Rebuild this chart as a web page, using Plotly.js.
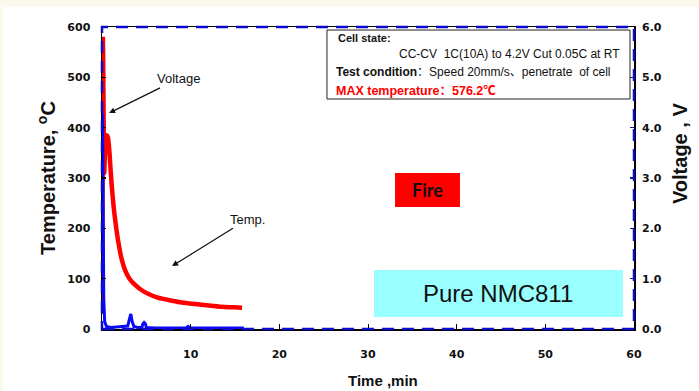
<!DOCTYPE html>
<html>
<head>
<meta charset="utf-8">
<script src="https://cdn.plot.ly/plotly-3.0.1.min.js"></script>
<style>
  html, body { margin: 0; padding: 0; background: #fdf8ec; width: 699px; height: 391px; overflow: hidden; }
  #chart { position: absolute; left: 3px; top: 7px; width: 696px; height: 384px; background: #ffffff; }
</style>
</head>
<body>
<div id="chart"></div>
<script>
// ---- data ----
const tempTime = [0.03, 0.07, 0.1, 0.13, 0.18, 0.25, 0.35, 0.5, 0.65, 0.8, 0.95, 1.1, 1.3, 1.55, 1.85, 2.2, 2.6, 3.1, 3.7, 4.4, 5.2, 6.2, 7.4, 8.8, 10.2, 11.8, 13.5, 15.0, 15.8];
const tempValues = [30, 380, 576, 540, 420, 310, 355, 385, 382, 360, 322, 285, 245, 208, 172, 140, 117, 100, 88, 78, 70, 63, 58, 53, 50, 47, 44, 43, 42];

const voltTime = [0, 0.06, 0.1, 0.14, 0.2, 0.3, 0.5, 1.0, 2.0, 2.9, 3.1, 3.25, 3.4, 3.6, 4.0, 4.5, 4.6, 4.75, 4.9, 5.0, 6.0, 8.0, 9.5, 9.7, 9.9, 11.0, 13.0, 15.0, 16.0];
const voltValues = [4.3, 4.2, 3.2, 1.8, 0.6, 0.15, 0.05, 0.03, 0.04, 0.06, 0.2, 0.3, 0.15, 0.05, 0.03, 0.03, 0.1, 0.13, 0.1, 0.03, 0.02, 0.02, 0.02, 0.05, 0.02, 0.02, 0.02, 0.02, 0.02];

const xTickVals = [10, 20, 30, 40, 50, 60];
const yTickVals = [0, 100, 200, 300, 400, 500, 600];
const y2TickVals = [0, 1, 2, 3, 4, 5, 6];

const infoLines = [
  "Cell state:",
  "CC-CV  1C(10A) to 4.2V Cut 0.05C at RT",
  "<b>Test condition</b>：Speed 20mm/s、penetrate  of cell",
  "MAX temperature：576.2℃"
];

const RED = '#ff0000';
const BLUE = '#0a0aff';
const FONT = 'Arial, "Liberation Sans", "Noto Sans CJK SC", sans-serif';
const TICKFONT = {family: '"DejaVu Sans", Verdana, sans-serif', size: 11, color: '#111', weight: 'bold'};

const traces = [
  {
    x: tempTime, y: tempValues, type: 'scatter', mode: 'lines',
    line: {color: RED, width: 4.5, shape: 'spline', smoothing: 0.6},
    name: 'Temp.', yaxis: 'y', hoverinfo: 'skip'
  },
  {
    x: voltTime, y: voltValues, type: 'scatter', mode: 'lines',
    line: {color: BLUE, width: 3},
    name: 'Voltage', yaxis: 'y2', hoverinfo: 'skip'
  }
];

function paperText(text, x, y, font, opts) {
  return Object.assign({
    text: text, x: x, y: y, xref: 'paper', yref: 'paper',
    xanchor: 'center', yanchor: 'middle', showarrow: false,
    font: Object.assign({family: FONT, color: '#111'}, font)
  }, opts || {});
}

const layout = {
  width: 696, height: 384,
  margin: {l: 99, r: 65, t: 20, b: 62},
  paper_bgcolor: '#ffffff', plot_bgcolor: '#ffffff',
  showlegend: false,
  font: {family: FONT, color: '#111'},
  xaxis: {
    range: [0, 60], tickvals: xTickVals, ticktext: xTickVals.map(String),
    ticks: 'inside', ticklen: 5, tickcolor: '#000', tickwidth: 1,
    showline: true, linecolor: '#000', linewidth: 1.5, mirror: true,
    showgrid: false, zeroline: false,
    tickfont: TICKFONT, ticklabelstandoff: 14
  },
  yaxis: {
    range: [0, 600], tickvals: yTickVals, ticktext: yTickVals.map(String),
    ticks: 'inside', ticklen: 4, tickcolor: '#000', tickwidth: 1.5,
    showline: true, linecolor: '#000', linewidth: 1.5, mirror: true,
    showgrid: false, zeroline: false,
    tickfont: TICKFONT, ticklabelstandoff: 8,
    title: {text: 'Temperature, <sup>o</sup>C', font: {family: FONT, size: 20, color: '#111', weight: 'bold'}, standoff: 6}
  },
  yaxis2: {
    range: [0, 6], tickvals: y2TickVals, ticktext: y2TickVals.map(v => v.toFixed(1)),
    overlaying: 'y', side: 'right',
    ticks: 'inside', ticklen: 4, tickcolor: '#1a1a8a', tickwidth: 1.5,
    showline: false, showgrid: false, zeroline: false,
    tickfont: TICKFONT, ticklabelstandoff: 7
  },
  shapes: [
    // dashed blue frame of the voltage axis
    {type: 'rect', xref: 'paper', yref: 'paper', x0: 0, x1: 1, y0: 0, y1: 1,
     line: {color: '#0c0cc8', width: 2.5, dash: '12px,8px'}, fillcolor: 'rgba(0,0,0,0)', layer: 'above'},
    // info box
    {type: 'rect', xref: 'paper', yref: 'paper', x0: 0.4229, x1: 0.9925, y0: 0.7616, y1: 0.990,
     line: {color: '#222', width: 1}, fillcolor: '#ffffff', layer: 'above'},
    // Fire box
    {type: 'rect', xref: 'paper', yref: 'paper', x0: 0.5508, x1: 0.6729, y0: 0.404, y1: 0.5166,
     line: {width: 0}, fillcolor: '#ff0000', layer: 'above'},
    // Pure NMC811 box
    {type: 'rect', xref: 'paper', yref: 'paper', x0: 0.5113, x1: 0.9793, y0: 0.0397, y1: 0.1954,
     line: {width: 0}, fillcolor: '#99ffff', layer: 'above'}
  ],
  annotations: [
    {text: 'Voltage', x: 0.8, y: 429, xref: 'x', yref: 'y',
     ax: 8.6, ay: 497, axref: 'x', ayref: 'y', xanchor: 'center', yanchor: 'middle',
     showarrow: true, arrowhead: 2, arrowsize: 1, arrowwidth: 1.2, arrowcolor: '#111',
     font: {family: FONT, size: 13, color: '#111'}},
    {text: 'Temp.', x: 7.9, y: 125, xref: 'x', yref: 'y',
     ax: 16.4, ay: 218, axref: 'x', ayref: 'y', xanchor: 'center', yanchor: 'middle',
     showarrow: true, arrowhead: 2, arrowsize: 1, arrowwidth: 1.2, arrowcolor: '#111',
     font: {family: FONT, size: 13, color: '#111'}},
    paperText('Fire', 0.6118, 0.460, {family: 'Lato, "Open Sans", sans-serif', size: 18, weight: 'bold'}),
    paperText('Pure NMC811', 0.7453, 0.116, {size: 24}),
    paperText(infoLines[0], 0.4398, 0.9636, {size: 11, weight: 'bold'}, {xanchor: 'left'}),
    paperText(infoLines[1], 0.9774, 0.9106, {size: 12}, {xanchor: 'right'}),
    paperText(infoLines[2], 0.4361, 0.851, {size: 12}, {xanchor: 'left'}),
    paperText(infoLines[3], 0.4361, 0.788, {size: 12.5, weight: 'bold', color: '#ff0000'}, {xanchor: 'left'}),
    paperText('Time ,min', 0.528, -0.172, {size: 15, weight: 'bold'}),
    paperText('Voltage , V', 1.0865, 0.5795, {size: 20, weight: 'bold'}, {textangle: -90})
  ]
};

Plotly.newPlot('chart', traces, layout, {staticPlot: true, displayModeBar: false});
</script>
</body>
</html>
